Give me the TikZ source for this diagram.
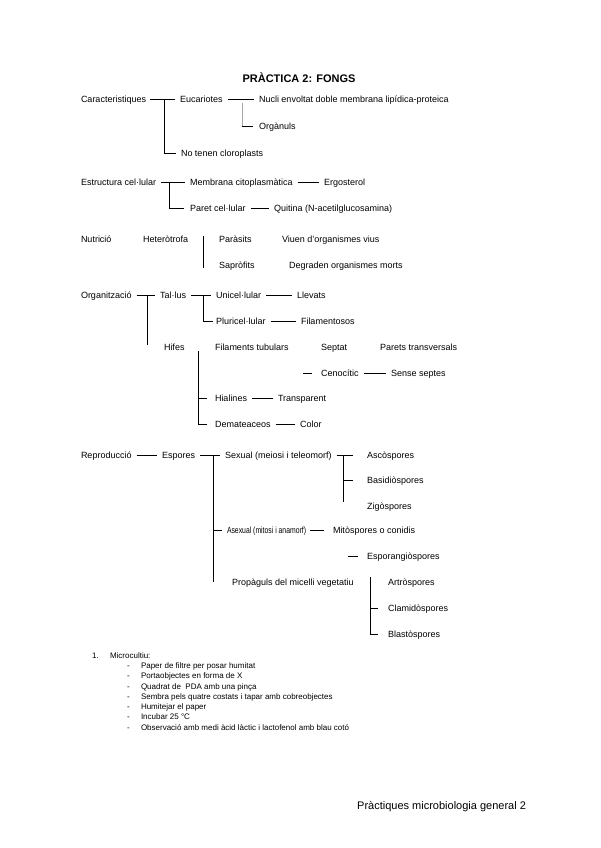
\documentclass[tikz,border=0pt]{standalone}
\usepackage{fontspec}
\setmainfont{Liberation Sans}
\begin{document}
\begin{tikzpicture}[x=1pt,y=-1pt,
  txt/.style={anchor=west, inner sep=0pt, outer sep=0pt, font=\fontsize{9}{10}\selectfont, text height=6.4pt, text depth=0pt},
  lst/.style={anchor=west, inner sep=0pt, outer sep=0pt, font=\fontsize{8}{9}\selectfont, text height=5.7pt, text depth=0pt},
  ln/.style={line width=0.9pt, black},
  link/.style={ln, shorten <=5pt, shorten >=5pt},
  tick/.style={ln, shorten >=#1},
  tick/.default=5pt,
  faint/.style={line width=0.5pt, black!35}]
\useasboundingbox (0,0) rectangle (600,848);
\fill[white] (0,0) rectangle (600,848);

% title
\node[anchor=center, inner sep=0pt, font=\bfseries\fontsize{11}{12}\selectfont, text height=7.9pt, text depth=0pt] (title) at (299,79) {PRÀCTICA 2: FONGS};

% --- Caracteristiques
\node[txt] (car) at (81,99) {Caracteristiques};
\node[txt] (euc) at (180,99) {Eucariotes};
\node[txt] (nuc) at (259,99) {Nucli envoltat doble membrana lipídica-proteica};
\node[txt] (orgn) at (259,126) {Orgànuls};
\node[txt] (noten) at (181,153) {No tenen cloroplasts};
\coordinate (s1) at (164,99);
\draw[ln, shorten <=4pt, shorten >=5pt] (car) -- (euc);
\draw[tick] (s1) |- (noten);
\draw[link] (euc) -- (nuc);
\coordinate (o1) at (242,103);
\draw[faint] (o1) -- (o1 |- orgn);
\draw[tick=6pt] (o1 |- orgn) -- (orgn);

% --- Estructura cel·lular
\node[txt] (est) at (81,182) {Estructura cel·lular};
\node[txt] (memb) at (190,182) {Membrana citoplasmàtica};
\node[txt] (ergo) at (324,182) {Ergosterol};
\node[txt] (paret) at (190,208) {Paret cel·lular};
\node[txt] (quit) at (274,208) {Quitina (N-acetilglucosamina)};
\coordinate (s2) at (169,182);
\draw[link] (est) -- (memb);
\draw[tick=6pt] (s2) |- (paret);
\draw[link] (memb) -- (ergo);
\draw[link] (paret) -- (quit);

% --- Nutrició
\node[txt] (nutr) at (81,239) {Nutrició};
\node[txt] (het) at (143,239) {Heteròtrofa};
\node[txt] (par) at (219,239) {Paràsits};
\node[txt] (viu) at (282,239) {Viuen d'organismes vius};
\node[txt] (sap) at (219,265) {Sapròfits};
\node[txt] (deg) at (289,265) {Degraden organismes morts};
\coordinate (v3a) at (203,236);
\coordinate (v3b) at (203,268);
\draw[ln] (v3a) -- (v3b);

% --- Organització
\node[txt] (orgz) at (81,295) {Organització};
\node[txt] (tal) at (160,295) {Tal·lus};
\node[txt] (uni) at (216,295) {Unicel·lular};
\node[txt] (llev) at (297,295) {Llevats};
\node[txt] (plu) at (216,321) {Pluricel·lular};
\node[txt] (fil) at (301,321) {Filamentosos};
\node[txt] (hif) at (164,347) {Hifes};
\node[txt] (filt) at (215,347) {Filaments tubulars};
\node[txt] (sept) at (321,347) {Septat};
\node[txt] (parets) at (380,347) {Parets transversals};
\node[txt] (ceno) at (321,373) {Cenocític};
\node[txt] (sense) at (391,373) {Sense septes};
\node[txt] (hial) at (215,398) {Hialines};
\node[txt] (transp) at (278,398) {Transparent};
\node[txt] (dem) at (215,424) {Demateaceos};
\node[txt] (color) at (300,424) {Color};
\draw[link] (orgz) -- (tal);
\coordinate (s4a) at (147,295);
\coordinate (s4b) at (147,345);
\draw[ln] (s4a) -- (s4b);
\draw[link] (tal) -- (uni);
\coordinate (s5) at (203,295);
\draw[tick=3pt] (s5) |- (plu);
\draw[link] (uni) -- (llev);
\draw[link] (plu) -- (fil);
\coordinate (c1) at (303,373);
\draw[tick=9pt] (c1) -- (ceno);
\draw[link] (ceno) -- (sense);
\coordinate (h1) at (198,351);
\draw[tick=8pt] (h1) |- (dem);
\draw[tick=8pt] (h1 |- hial) -- (hial);
\draw[link] (hial) -- (transp);
\draw[link] (dem) -- (color);

% --- Reproducció
\node[txt] (repr) at (81,455) {Reproducció};
\node[txt] (esp) at (162,455) {Espores};
\node[txt] (sex) at (225,455) {Sexual (meiosi i teleomorf)};
\node[txt] (asco) at (367,455) {Ascòspores};
\node[txt] (basi) at (367,480) {Basidiòspores};
\node[txt] (zigo) at (367,506) {Zigòspores};
\node[txt] (asex) at (227,530) {\scalebox{0.76}[1]{Asexual (mitosi i anamorf)}};
\node[txt] (mito) at (333,530) {Mitòspores o conidis};
\node[txt] (espg) at (367,556) {Esporangiòspores};
\node[txt] (prop) at (232,582) {Propàguls del micelli vegetatiu};
\node[txt] (artr) at (388,582) {Artròspores};
\node[txt] (clam) at (388,608) {Clamidòspores};
\node[txt] (blas) at (388,634) {Blastòspores};
\draw[link] (repr) -- (esp);
\draw[link] (esp) -- (sex);
\coordinate (e1) at (213,455);
\coordinate (e2) at (213,582);
\draw[ln] (e1) -- (e2);
\draw[tick] (e1 |- asex) -- (asex);
\draw[ln, shorten <=5pt, shorten >=14pt] (sex) -- (asco);
\coordinate (x1) at (343,455);
\coordinate (x2) at (343,502);
\draw[ln] (x1) -- (x2);
\draw[tick=14pt] (x1 |- basi) -- (basi);
\draw[ln, shorten <=4pt, shorten >=9pt] (asex) -- (mito);
\coordinate (g1) at (348,556);
\draw[tick=9pt] (g1) -- (espg);
\coordinate (a1) at (370,577);
\draw[tick=10pt] (a1) |- (blas);
\draw[tick=10pt] (a1 |- clam) -- (clam);

% --- list
\node[lst] (n1) at (92,656) {1.};
\node[lst] (micro) at (110,656) {Microcultiu:};
\foreach \i/\yy/\t in {1/666/{Paper de filtre per posar humitat},
  2/676/{Portaobjectes en forma de X},
  3/686.5/{Quadrat de~ PDA amb una pinça},
  4/697/{Sembra pels quatre costats i tapar amb cobreobjectes},
  5/707/{Humitejar el paper},
  6/717/{Incubar 25 °C},
  7/727.5/{Observació amb medi àcid làctic i lactofenol amb blau cotó}}{
  \node[lst] (d\i) at (127,\yy) {-};
  \node[lst] (it\i) at (141,\yy) {\t};
}

% footer
\node[anchor=west, inner sep=0pt, font=\fontsize{11}{12}\selectfont, text height=7.9pt, text depth=0pt] (foot) at (357,806) {Pràctiques microbiologia general 2};
\end{tikzpicture}
\end{document}
